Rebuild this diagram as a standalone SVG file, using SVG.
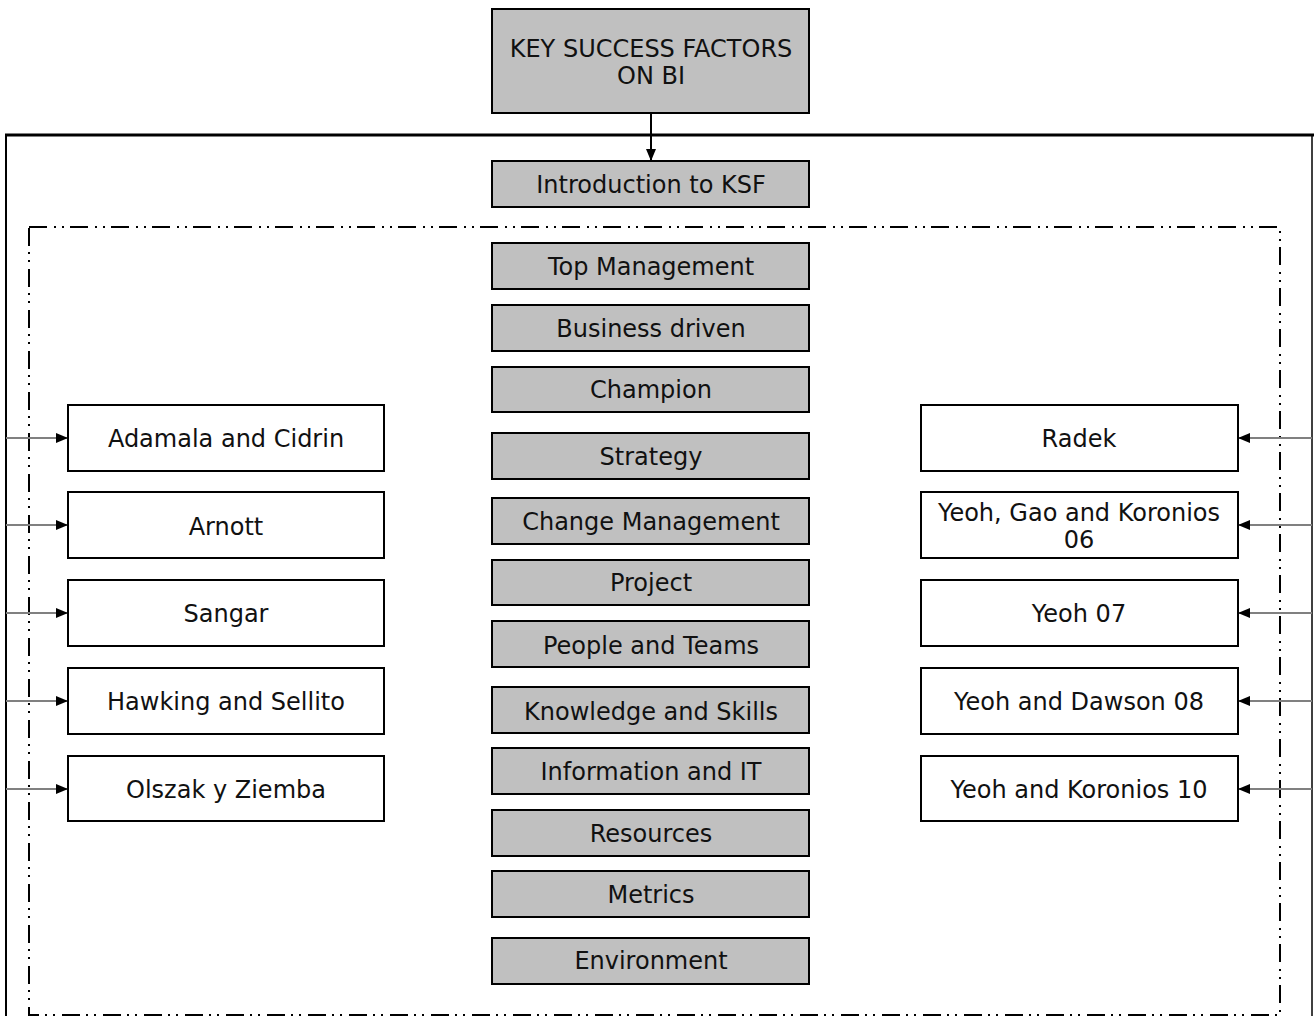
<svg xmlns="http://www.w3.org/2000/svg" width="1314" height="1016" viewBox="0 0 1314 1016">
<defs>
<marker id="ah" viewBox="0 0 12 10" refX="12" refY="5" markerWidth="12" markerHeight="10" markerUnits="userSpaceOnUse" orient="auto">
<path d="M0,0 L12,5 L0,10 Z" fill="#000"/>
</marker>
<style>
.g{fill:#c0c0c0;stroke:#000;stroke-width:2}
.w{fill:#fff;stroke:#000;stroke-width:2}
text{font-family:"DejaVu Sans","Liberation Sans",sans-serif;font-size:24px;fill:#111;text-anchor:middle}
.c{stroke:#808080;stroke-width:2;fill:none;marker-end:url(#ah)}
.frame{stroke:#000;fill:none}
.dd{fill:none;stroke:#000;stroke-width:2;stroke-dasharray:18 7 2 6 2 6}
</style>
</defs>
<rect width="1314" height="1016" fill="#fff"/>
<g id="frame">
<path class="frame" d="M5,135 H1314" stroke-width="3"/>
<path class="frame" d="M6,135 V1016" stroke-width="2"/>
<path class="frame" d="M1312,136 V1016" stroke-width="1.5"/>
<rect class="dd" x="29" y="227" width="1251" height="788"/>
</g>
<g id="connectors">
<path d="M651,113 V161" stroke="#000" stroke-width="2" fill="none" marker-end="url(#ah)"/>
<path class="c" d="M6,438 H68"/>
<path class="c" d="M6,525 H68"/>
<path class="c" d="M6,613 H68"/>
<path class="c" d="M6,701 H68"/>
<path class="c" d="M6,789 H68"/>
<path class="c" d="M1312,438 H1238"/>
<path class="c" d="M1312,525 H1238"/>
<path class="c" d="M1312,613 H1238"/>
<path class="c" d="M1312,701 H1238"/>
<path class="c" d="M1312,789 H1238"/>
</g>
<g id="ksf"><rect class="g" x="492" y="9" width="317" height="104"/><text x="651" y="57">KEY SUCCESS FACTORS</text><text x="651" y="84">ON BI</text></g>
<g id="intro"><rect class="g" x="492" y="161" width="317" height="46"/><text x="651" y="193">Introduction to KSF</text></g>
<g id="c1"><rect class="g" x="492" y="243" width="317" height="46"/><text x="651" y="275">Top Management</text></g>
<g id="c2"><rect class="g" x="492" y="305" width="317" height="46"/><text x="651" y="337">Business driven</text></g>
<g id="c3"><rect class="g" x="492" y="367" width="317" height="45"/><text x="651" y="398">Champion</text></g>
<g id="c4"><rect class="g" x="492" y="433" width="317" height="46"/><text x="651" y="465">Strategy</text></g>
<g id="c5"><rect class="g" x="492" y="498" width="317" height="46"/><text x="651" y="530">Change Management</text></g>
<g id="c6"><rect class="g" x="492" y="560" width="317" height="45"/><text x="651" y="591">Project</text></g>
<g id="c7"><rect class="g" x="492" y="621" width="317" height="46"/><text x="651" y="654">People and Teams</text></g>
<g id="c8"><rect class="g" x="492" y="687" width="317" height="46"/><text x="651" y="720">Knowledge and Skills</text></g>
<g id="c9"><rect class="g" x="492" y="748" width="317" height="46"/><text x="651" y="780">Information and IT</text></g>
<g id="c10"><rect class="g" x="492" y="810" width="317" height="46"/><text x="651" y="842">Resources</text></g>
<g id="c11"><rect class="g" x="492" y="871" width="317" height="46"/><text x="651" y="903">Metrics</text></g>
<g id="c12"><rect class="g" x="492" y="938" width="317" height="46"/><text x="651" y="969">Environment</text></g>
<g id="l1"><rect class="w" x="68" y="405" width="316" height="66"/><text x="226" y="447">Adamala and Cidrin</text></g>
<g id="l2"><rect class="w" x="68" y="492" width="316" height="66"/><text x="226" y="535">Arnott</text></g>
<g id="l3"><rect class="w" x="68" y="580" width="316" height="66"/><text x="226" y="622">Sangar</text></g>
<g id="l4"><rect class="w" x="68" y="668" width="316" height="66"/><text x="226" y="710">Hawking and Sellito</text></g>
<g id="l5"><rect class="w" x="68" y="756" width="316" height="65"/><text x="226" y="798">Olszak y Ziemba</text></g>
<g id="r1"><rect class="w" x="921" y="405" width="317" height="66"/><text x="1079" y="447">Radek</text></g>
<g id="r2"><rect class="w" x="921" y="492" width="317" height="66"/><text x="1079" y="521">Yeoh, Gao and Koronios</text><text x="1079" y="548">06</text></g>
<g id="r3"><rect class="w" x="921" y="580" width="317" height="66"/><text x="1079" y="622">Yeoh 07</text></g>
<g id="r4"><rect class="w" x="921" y="668" width="317" height="66"/><text x="1079" y="710">Yeoh and Dawson 08</text></g>
<g id="r5"><rect class="w" x="921" y="756" width="317" height="65"/><text x="1079" y="798">Yeoh and Koronios 10</text></g>
</svg>
